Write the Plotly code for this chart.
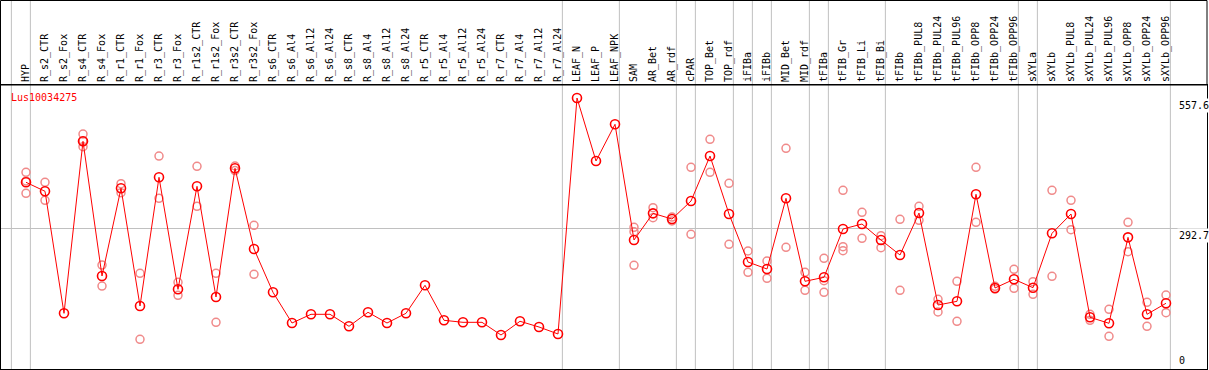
import plotly.graph_objects as go

categories = ["HYP", "R_s2_CTR", "R_s2_Fox", "R_s4_CTR", "R_s4_Fox", "R_r1_CTR", "R_r1_Fox",
              "R_r3_CTR", "R_r3_Fox", "R_r1s2_CTR", "R_r1s2_Fox", "R_r3s2_CTR", "R_r3s2_Fox",
              "R_s6_CTR", "R_s6_Al4", "R_s6_Al12", "R_s6_Al24", "R_s8_CTR", "R_s8_Al4", "R_s8_Al12",
              "R_s8_Al24", "R_r5_CTR", "R_r5_Al4", "R_r5_Al12", "R_r5_Al24", "R_r7_CTR", "R_r7_Al4",
              "R_r7_Al12", "R_r7_Al24", "LEAF_N", "LEAF_P", "LEAF_NPK", "SAM", "AR_Bet", "AR_rdf",
              "cPAR", "TOP_Bet", "TOP_rdf", "iFIBa", "iFIBb", "MID_Bet", "MID_rdf", "tFIBa",
              "tFIB_Gr", "tFIB_Li", "tFIB_Bi", "tFIBb", "tFIBb_PUL8", "tFIBb_PUL24", "tFIBb_PUL96",
              "tFIBb_OPP8", "tFIBb_OPP24", "tFIBb_OPP96", "sXYLa", "sXYLb", "sXYLb_PUL8",
              "sXYLb_PUL24", "sXYLb_PUL96", "sXYLb_OPP8", "sXYLb_OPP24", "sXYLb_OPP96"]

mean_values = [386.3, 368.0, 119.9, 469.6, 195.8, 374.1, 134.8, 396.4, 168.7, 378.1, 153.1,
               414.7, 250.7, 162.6, 100.2, 117.9, 117.9, 93.5, 122.0, 100.2, 119.9, 176.9, 105.7,
               101.6, 101.6, 75.8, 103.7, 92.1, 77.9, 557.6, 429.6, 504.2, 269.0, 323.2, 311.6,
               348.2, 439.7, 321.8, 224.2, 210.0, 353.7, 185.0, 193.1, 291.3, 301.5, 269.0, 238.5,
               323.8, 136.8, 144.3, 361.9, 171.4, 189.1, 172.0, 282.6, 321.8, 111.8, 99.6, 274.4,
               117.9, 140.3]

N = None
rep1 = [406.6, 386.3, N, 484.4, 218.1, 383.4, 201.3, 439.7, 183.0, 418.8, 201.3, 419.4, 298.8,
        N, N, N, N, N, N, N, N, N, N, N, N, N, N, N, N, N, N, N,
        294.8, 334.6, 315.7, 416.7, 473.7, 384.2, 246.6, 226.3, 455.4, 203.3, 231.8, 370.0, 325.3,
        277.7, 311.0, 337.5, 148.4, 185.0, 416.7, 174.8, 209.4, 184.2, 370.0, 349.7, 117.9, 128.1,
        304.9, 142.3, 157.1]
rep2 = [388.9, 349.7, N, 470.2, 175.4, 365.1, 67.1, 353.7, 156.5, 337.5, 101.6, 410.2, 199.2,
        N, N, N, N, N, N, N, N, N, N, N, N, N, N, N, N, N, N, N,
        285.8, 314.3, 307.6, 280.5, 406.6, 260.2, 203.3, 191.1, 254.1, 166.7, 186.2, 255.3, 272.4,
        253.3, 166.7, 309.0, 122.6, 103.7, 304.9, 169.3, 170.8, 158.6, 195.2, 289.9, 105.7, 73.2,
        245.2, 93.5, 121.2]
rep3 = [363.9, N, N, 458.6, N, N, N, N, N, N, N, N, N,
        N, N, N, N, N, N, N, N, N, N, N, N, N, N, N, N, N, N, N,
        217.5, N, N, N, N, N, N, N, N, N, 162.6, 247.2, N,
        N, N, N, N, N, N, N, N, N, N, N, N, N,
        N, N, N]

group_ends = [-1, 0, 28, 31, 34, 35, 37, 38, 39, 41, 42, 45, 52, 53, 60]
y_tick_values = [557.6, 292.7, 0]
y_tick_labels = ["557.6", "292.7", "0"]
gene_id = "Lus10034275"

x_idx = list(range(len(categories)))
FONT = "DejaVu Sans Mono"

fig = go.Figure()
for reps in (rep1, rep2, rep3):
    fig.add_trace(go.Scatter(
        x=x_idx, y=reps, mode="markers",
        marker=dict(symbol="circle-open", size=8, color="#f08a8a", line=dict(width=1.5)),
        showlegend=False, hoverinfo="skip"))

fig.add_trace(go.Scatter(
    x=x_idx, y=mean_values, mode="lines+markers",
    line=dict(color="#ff0000", width=1),
    marker=dict(symbol="circle-open", size=9, color="#ff0000", line=dict(width=1.6)),
    showlegend=False))

W, H = 1209, 370
ml, mr, mt, mb = 1, 2, 85, 1
plot_w = W - ml - mr
plot_h = H - mt - mb
top_paper = 1 + (mt - 0.5) / plot_h

shapes = []
for g in group_ends:
    shapes.append(dict(type="line", xref="x", yref="paper", x0=g + 0.23, x1=g + 0.23,
                       y0=0, y1=top_paper, line=dict(color="#c0c0c0", width=1), layer="below"))
shapes.append(dict(type="rect", xref="paper", yref="paper", x0=-0.5 / plot_w, x1=1,
                   y0=1, y1=top_paper, line=dict(color="black", width=1)))

annotations = [dict(text=gene_id, xref="paper", yref="paper", x=0.007, y=1, xanchor="left",
                    yanchor="top", yshift=-5, showarrow=False,
                    font=dict(family=FONT, size=10, color="#ff0000"))]
lab_x = (1177 - ml) / plot_w
for v, t in zip(y_tick_values, y_tick_labels):
    if v == 0:
        annotations.append(dict(text=t, xref="paper", yref="paper", x=lab_x, y=0, xanchor="left",
                                yanchor="bottom", yshift=1, showarrow=False, bgcolor="white",
                                font=dict(family=FONT, size=10, color="black")))
    else:
        annotations.append(dict(text=t, xref="paper", yref="y", x=lab_x, y=v, xanchor="left",
                                yanchor="top", showarrow=False, bgcolor="white",
                                font=dict(family=FONT, size=10, color="black")))

fig.update_layout(
    width=W, height=H,
    margin=dict(l=ml, r=mr, t=mt, b=mb, pad=0, autoexpand=False),
    paper_bgcolor="white", plot_bgcolor="white",
    shapes=shapes, annotations=annotations,
    xaxis=dict(range=[-1.3158, 62.158], side="top", tickmode="array", tickvals=x_idx,
               ticktext=categories, tickangle=-90, ticks="", showgrid=False, zeroline=False,
               showline=True, mirror=True, linecolor="black", linewidth=1, automargin=False,
               tickfont=dict(family=FONT, size=10, color="black")),
    yaxis=dict(range=[6.7, 584.1], tickmode="array", tickvals=[292.7], showticklabels=False,
               showgrid=True, gridcolor="#c0c0c0", gridwidth=1, zeroline=False, automargin=False,
               showline=True, mirror=True, linecolor="black", linewidth=1),
)

fig.write_html("out.html", config={"displayModeBar": False},
               post_script="document.body.style.margin='0';document.body.style.overflow='hidden';")
